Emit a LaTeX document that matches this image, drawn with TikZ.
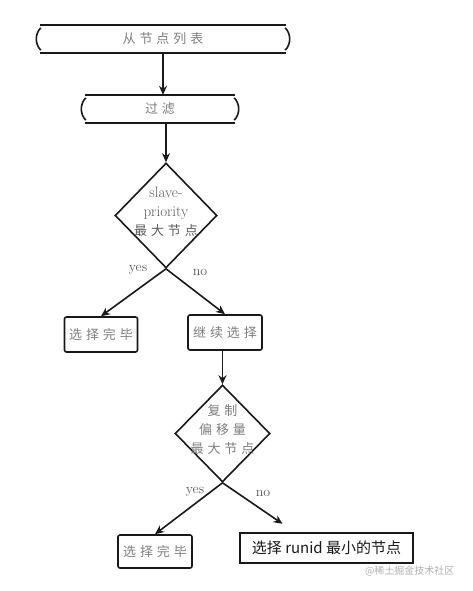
\documentclass[tikz,border=0pt]{standalone}
\usepackage{fontspec}
\usetikzlibrary{arrows.meta,positioning,calc,shapes.geometric}
\newfontfamily\cjk{Noto Sans CJK SC}
\newfontfamily\hand[LetterSpace=30]{Noto Sans CJK SC}
\definecolor{ink}{RGB}{25,25,25}
\definecolor{pencil}{RGB}{125,125,125}
\definecolor{lead}{RGB}{90,90,90}
\definecolor{mark}{RGB}{175,175,175}
\tikzset{
  sketch/.style={draw=ink,line width=1.6pt},
  bracebox/.style={inner sep=0pt,font=\hand\fontsize{13}{15}\selectfont,text=pencil},
  stepbox/.style={sketch,rounded corners=2pt,inner sep=0pt,font=\hand\fontsize{13}{15}\selectfont,text=pencil},
  decide/.style={diamond,sketch,inner sep=0pt},
  asktext/.style={align=center,inner sep=0pt,font=\fontsize{15}{19}\selectfont,text=lead},
  endbox/.style={draw=ink,line width=2.4pt,inner sep=0pt,font=\cjk\fontsize{15}{17}\selectfont,text=ink},
  arr/.style={-{Stealth[length=9pt,width=8pt]},line width=1.6pt,draw=ink},
  branch/.style={font=\fontsize{14}{16}\selectfont,text=lead},
}
% top and bottom rule with bent ends
\newcommand\braceends[1]{%
  \draw[sketch] (#1.north west) -- (#1.north east)
                (#1.south west) -- (#1.south east);
  \draw[sketch] ([xshift=1pt,yshift=-3pt]#1.north west)
    .. controls ([xshift=-5pt,yshift=-9pt]#1.north west) and ([xshift=-5pt,yshift=9pt]#1.south west)
    .. ([xshift=1pt,yshift=3pt]#1.south west);
  \draw[sketch] ([xshift=-1pt,yshift=-3pt]#1.north east)
    .. controls ([xshift=5pt,yshift=-9pt]#1.north east) and ([xshift=5pt,yshift=9pt]#1.south east)
    .. ([xshift=-1pt,yshift=3pt]#1.south east);
}
\begin{document}
\begin{tikzpicture}[x=1pt,y=-1pt]
  \useasboundingbox (0,0) rectangle (473,591);

  % node list and filter
  \node[bracebox,minimum width=246pt,minimum height=28pt] (src) at (163,39) {从节点列表};
  \braceends{src}
  \node[bracebox,minimum width=150pt,minimum height=28pt] (filt) at (160,109) {过滤};
  \braceends{filt}
  \draw[arr] (src.south) -- (src.south |- filt.north);

  % first decision
  \node[decide,minimum width=102pt,minimum height=105pt] (d1) at (166,215.5) {};
  \node[asktext] (d1txt) at ([yshift=4pt]d1.center) {slave-\\priority\\{\hand\fontsize{13}{19}\selectfont 最大节点}};
  \draw[arr] (d1.north |- filt.south) -- (d1.north);

  \node[stepbox,minimum width=73pt,minimum height=35pt] (done1) at (101,334.5) {选择完毕};
  \node[stepbox,minimum width=74pt,minimum height=35pt] (cont) at (225,332.5) {继续选择};
  \draw[arr] (d1.south) -- (done1.north);
  \draw[arr] (d1.south) -- (cont.north);
  \node[branch] (yes1) at (138,270) {yes};
  \node[branch] (no1) at (200,272) {no};

  % second decision
  \node[decide,minimum width=95pt,minimum height=97pt] (d2) at (222.5,433.5) {};
  \node[asktext,font=\hand\fontsize{13}{19}\selectfont,text=pencil] (d2txt) at ([yshift=3.5pt]d2.center) {复制\\偏移量\\最大节点};
  \draw[arr] (d2.north |- cont.south) -- (d2.north);

  \node[stepbox,minimum width=74pt,minimum height=33pt] (done2) at (155,551.5) {选择完毕};
  \node[endbox,minimum width=173pt,minimum height=30pt] (last) at (326.5,548) {选择 runid 最小的节点};
  \draw[arr] (d2.south) -- (done2.north);
  \draw[arr] (d2.south) -- ([xshift=-44pt,yshift=8pt]last.north);
  \node[branch] (yes2) at (195,492) {yes};
  \node[branch] (no2) at (263,493) {no};

  \node[font=\cjk\fontsize{10}{12}\selectfont,text=mark,anchor=east] (wm) at (458,571) {@稀土掘金技术社区};
\end{tikzpicture}
\end{document}
